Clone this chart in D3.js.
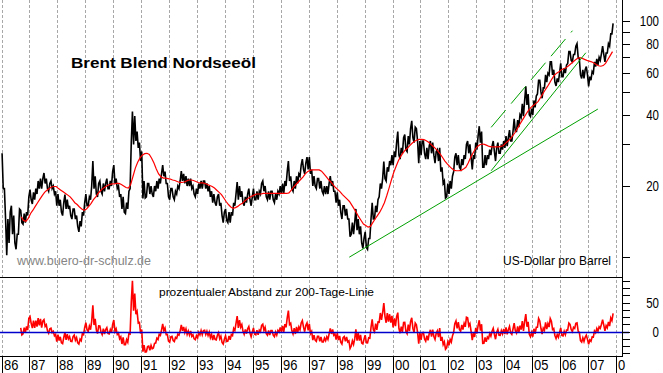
<!DOCTYPE html>
<html>
<head>
<meta charset="utf-8">
<script src="https://cdn.jsdelivr.net/npm/d3@7"></script>
<style>
  body { margin: 0; background: #fff; }
  svg { display: block; }
  text { font-family: "Liberation Sans", Arial, sans-serif; }
</style>
</head>
<body>
<svg id="chart" width="663" height="373"></svg>
<script>
/* global d3 */

// year ticks along the bottom
var years = d3.range(1986, 2009);
var yearLabels = ['86', '87', '88', '89', '90', '91', '92', '93', '94', '95', '96',
  '97', '98', '99', '00', '01', '02', '03', '04', '05', '06', '07', '08'];

// right axis (log, US-Dollar)
var priceTicks = [10, 20, 30, 40, 50, 60, 70, 80, 90, 100];
var priceLabels = [20, 40, 60, 80, 100];

// lower panel (percent)
var devTicks = [-37.5, -25, -12.5, 0, 12.5, 25, 37.5, 50, 62.5, 75, 87.5];
var devLabels = [0, 50];

// Brent monthly low / high, Jan 1986 .. Nov 2007
var priceLow = [
  19.5, 14.5, 10.2, 11.5, 12.5, 11.5, 10.8, 12.5, 14, 13.8, 14, 15,       // 1986
  17.5, 16.8, 17.5, 18.5, 19.5, 19.5, 20.5, 19.5, 19, 19.5, 18.5, 16.5,   // 1987
  16.5, 15.5, 15, 16, 16, 15, 14.5, 14.5, 13.5, 12.8, 13.5, 15,           // 1988
  16.5, 16.5, 17.5, 19.5, 18.5, 18, 19, 18.5, 19, 19.5, 19.5, 20,         // 1989
  20.5, 19.5, 18, 16, 15.5, 15.3, 16, 19.5, 30, 31, 29, 25.5,             // 1990
  17.7, 17.8, 18, 18.5, 18.5, 18, 19, 19.5, 20.5, 22, 20.5, 18,           // 1991
  17.5, 18, 17.5, 18.5, 19.5, 21, 20.5, 20, 20, 19.5, 18.5, 18,           // 1992
  18.5, 19.5, 19.5, 19.5, 19, 18, 17, 17, 16.5, 16.5, 15, 14,             // 1993
  14.3, 14, 14, 15, 16.5, 17.5, 18, 17, 16.5, 17, 17.5, 16.5,             // 1994
  17.5, 17.5, 17.5, 18.5, 19, 18, 17.5, 17.5, 17.5, 17, 17.5, 18.5,       // 1995
  18.5, 18.5, 20, 21, 19.5, 19, 19.5, 20.5, 22, 23.5, 22.5, 23.5,         // 1996
  22.5, 20, 20, 19.5, 19.5, 19, 18.5, 18.5, 18.5, 20, 19, 17,             // 1997
  16.5, 15.5, 14.5, 15, 14.5, 12.2, 12.5, 12.5, 13, 12.5, 11.5, 10.9,     // 1998
  11, 10.8, 12, 14.5, 14.5, 15.5, 18, 19.5, 21.5, 21, 23, 24.5,           // 1999
  24.5, 26.5, 27, 26, 27.5, 28.5, 28, 30, 32, 30.5, 31, 25,               // 2000
  27, 27.5, 26, 26, 27.5, 27, 25, 25.5, 23, 20.5, 17.8, 18,               // 2001
  18.5, 19.5, 23, 24.5, 24, 23.5, 24.5, 26, 27.5, 26.5, 23.5, 26,         // 2002
  28.5, 30.5, 24, 24, 24.5, 26, 27, 28, 25.5, 27.5, 27.5, 28.5,           // 2003
  29, 29.5, 31, 31, 34, 34, 35.5, 39, 39.5, 44, 40, 39.3,                 // 2004
  40, 43, 49, 50, 47, 52, 55, 59, 59, 55, 53, 55,                         // 2005
  58, 58, 60, 66, 68, 67, 72, 70, 59, 57, 57, 59,                         // 2006
  52.8, 56, 60, 64, 65, 68, 72, 67, 73, 78, 88                            // 2007
];
var priceHigh = [
  27.5, 19.5, 14.5, 15.5, 16.5, 15, 12.5, 16, 15.8, 15.3, 15.5, 18,       // 1986
  19.3, 18.8, 19.5, 21, 21.5, 21.5, 22.7, 21.5, 20.5, 21, 20, 19,         // 1987
  18.5, 17.5, 17, 18.4, 17.5, 16.5, 16, 16, 15, 14.2, 15.5, 17,           // 1988
  18.5, 18, 20, 25.5, 22, 20.5, 21, 20.5, 20.5, 21.5, 21, 23,             // 1989
  24.5, 21.5, 20, 18.5, 18, 17, 19, 30.5, 41.3, 39.5, 34, 30.5,           // 1990
  28, 21, 20.5, 20.5, 20, 20, 21, 21.5, 22.5, 24.5, 23, 20.5,             // 1991
  19.5, 19.5, 19, 20, 21, 23.1, 22.5, 22, 21.5, 21.5, 20, 19.5,           // 1992
  20.5, 21, 21, 21, 20.5, 20, 19, 18.5, 18, 18.5, 17, 15.5,               // 1993
  16, 15.5, 15.5, 17, 18.5, 20.8, 20, 19, 18, 18.5, 19.5, 18,             // 1994
  19.5, 19, 19, 20.5, 21, 20, 19, 19, 19, 18.5, 19, 20,                   // 1995
  20.5, 21, 23, 25.5, 22, 21, 22, 22.5, 24.5, 26, 25, 26.5,               // 1996
  26.5, 23.5, 22, 21.5, 21.5, 21, 20, 20, 20.5, 22, 21, 19,               // 1997
  18.8, 17.5, 16.5, 16.5, 16, 14.5, 14, 14, 16, 14.5, 13.5, 12,           // 1998
  12.8, 12, 14.5, 17, 16.5, 17.5, 20.5, 21.5, 25.4, 24, 25.5, 27,         // 1999
  28, 30.5, 34, 29, 32, 33, 32.5, 35, 37.7, 35.5, 35, 31,                 // 2000
  31, 31, 29, 29.5, 31, 30.5, 28, 28.5, 29, 24, 21, 20.5,                 // 2001
  21, 22, 26.5, 27.5, 27, 26, 27, 30, 31, 30, 27, 30.5,                   // 2002
  32.5, 35.8, 34, 27, 27, 28.5, 29.5, 31, 29, 30.5, 30, 31,               // 2003
  32.5, 32, 34.5, 34, 38.5, 38, 40, 44.5, 46, 52.8, 49, 42.5,             // 2004
  46, 48, 56, 56, 52, 59, 60, 67, 67, 62, 57, 60,                         // 2005
  66, 63, 65, 74, 74, 72, 78, 80, 69, 62, 62, 64,                         // 2006
  58, 61, 67, 69, 70, 72.5, 78, 73, 80, 88, 97.5                          // 2007
];
// 200-Tage-Linie, monthly (starts Sep 1986)
var ma200 = [
  null, null, null, null, null, null, null, null, 14.8, 14.3, 14.2, 14.6, // 1986
  15.3, 15.8, 16.4, 17.0, 17.6, 18.2, 18.8, 19.2, 19.5, 19.8, 19.9, 19.9, // 1987
  19.5, 19.2, 18.9, 18.6, 18.3, 18.0, 17.5, 17.0, 16.7, 16.3, 16.0, 15.8, // 1988
  16.0, 16.4, 16.9, 17.5, 18.0, 18.6, 19.1, 19.5, 19.8, 20.1, 20.3, 20.4, // 1989
  20.4, 20.5, 20.5, 20.3, 20.0, 19.7, 19.6, 20.3, 22.0, 23.8, 25.2, 26.3, // 1990
  27.0, 27.4, 27.5, 27.2, 26.2, 25.0, 23.6, 22.5, 21.9, 21.6, 21.6, 21.5, // 1991
  21.4, 21.2, 21.1, 20.9, 20.7, 20.7, 20.8, 21.0, 21.2, 21.2, 21.1, 20.9, // 1992
  20.7, 20.6, 20.6, 20.5, 20.3, 20.1, 19.9, 19.6, 19.2, 18.8, 18.4, 17.8, // 1993
  17.2, 16.7, 16.3, 16.1, 16.2, 16.4, 16.7, 16.9, 17.3, 17.6, 17.9, 18.1, // 1994
  18.3, 18.5, 18.5, 18.5, 18.6, 18.6, 18.6, 18.6, 18.6, 18.6, 18.6, 18.6, // 1995
  18.6, 18.6, 18.6, 18.7, 19.2, 19.8, 20.3, 20.8, 21.3, 21.8, 22.5, 23.0, // 1996
  23.3, 23.4, 23.4, 23.4, 23.4, 23.1, 22.5, 21.9, 21.3, 20.8, 20.2, 19.7, // 1997
  19.3, 18.9, 18.4, 18.0, 17.6, 17.2, 16.6, 16.0, 15.4, 14.8, 14.3, 13.8, // 1998
  13.6, 13.4, 13.5, 14.0, 14.5, 15.0, 15.5, 16.2, 17.0, 18.2, 19.6, 21.2, // 1999
  22.8, 24.2, 25.6, 26.7, 27.6, 28.4, 29.0, 29.7, 30.4, 30.9, 31.3, 31.5, // 2000
  31.5, 31.4, 31.1, 30.6, 30.0, 29.4, 28.8, 28.1, 27.3, 26.4, 25.5, 24.8, // 2001
  24.2, 23.7, 23.3, 23.2, 23.2, 23.3, 23.6, 24.0, 25.0, 26.3, 27.5, 28.6, // 2002
  29.4, 29.9, 30.1, 30.0, 29.7, 29.4, 29.3, 29.3, 29.3, 29.3, 29.4, 29.6, // 2003
  30.3, 30.9, 31.6, 32.5, 33.5, 34.8, 36.2, 37.6, 39.0, 40.5, 41.9, 43.0, // 2004
  43.8, 44.6, 45.5, 47.2, 49.0, 50.8, 52.6, 54.6, 56.8, 58.8, 60.0, 60.8, // 2005
  62.0, 62.6, 63.3, 64.3, 65.6, 66.9, 68.2, 69.4, 69.8, 69.3, 68.6, 68.0, // 2006
  67.5, 67.0, 66.2, 65.3, 64.5, 64.2, 64.6, 66.0, 68.5, 71.2, 74.0        // 2007
];
// trend lines: [year, price] end points
var supportLines = [
  [[1998.45, 10.0], [2007.35, 42.3]],
  [[2003.53, 23.2], [2006.92, 73.2]]
];
var channelLine = [[2003.53, 35.4], [2006.44, 90.7]];

var W = 663, H = 373;
var plotRight = 623, mainBottom = 277, devBottom = 356;

var x = d3.scaleLinear().domain([1986, 2008]).range([1.5, 616]);
var y = d3.scaleLog().domain([10, 100]).range([257.2, 20.7]);
var yDev = d3.scaleLinear().domain([0, 50]).range([331.7, 302.7]);

function px(v) { return Math.round(v) + 0.5; }
function monthT(m, f) { return 1986 + (m + f) / 12; }

var svg = d3.select('#chart');
svg.append('rect').attr('width', W).attr('height', H).attr('fill', '#fff');

var defs = svg.append('defs');
defs.append('clipPath').attr('id', 'clip-main').append('rect')
  .attr('x', 0).attr('y', 0).attr('width', plotRight).attr('height', mainBottom);
defs.append('clipPath').attr('id', 'clip-dev').append('rect')
  .attr('x', 0).attr('y', mainBottom).attr('width', plotRight).attr('height', devBottom - mainBottom);

// dashed year grid over both panels
svg.append('g').selectAll('line').data(years).join('line')
  .attr('x1', function(d) { return px(x(d)); })
  .attr('x2', function(d) { return px(x(d)); })
  .attr('y1', 0).attr('y2', devBottom)
  .attr('stroke', '#a8a8a8').attr('stroke-dasharray', '3,2');

// zig-zag path through monthly low/high
var pts = [];
var nM = priceLow.length;
function mid(m) { return (priceLow[m] + priceHigh[m]) / 2; }
for (var m = 0; m < nM; ++m) {
  var rising = m + 1 < nM ? mid(m + 1) >= mid(m) : true;
  pts.push({ t: monthT(m, 0.25), v: rising ? priceLow[m] : priceHigh[m], m: m });
  pts.push({ t: monthT(m, 0.75), v: rising ? priceHigh[m] : priceLow[m], m: m });
}
var maPts = ma200.map(function(v, i) { return { t: monthT(i, 0.5), v: v }; });
var devPts = pts.filter(function(p) { return ma200[p.m] != null; })
  .map(function(p) { return { t: p.t, v: (p.v / ma200[p.m] - 1) * 100 }; });

var main = svg.append('g').attr('clip-path', 'url(#clip-main)');
var line = d3.line()
  .defined(function(d) { return d.v != null; })
  .x(function(d) { return x(d.t); })
  .y(function(d) { return y(d.v); });

main.append('path').datum(pts).attr('d', line)
  .attr('fill', 'none').attr('stroke', '#000').attr('stroke-width', 1.6);
main.append('path').datum(maPts).attr('d', line)
  .attr('fill', 'none').attr('stroke', '#ff0000').attr('stroke-width', 1.2);

var tl = d3.line().x(function(d) { return x(d[0]); }).y(function(d) { return y(d[1]); });
supportLines.forEach(function(l) {
  main.append('path').datum(l).attr('d', tl)
    .attr('fill', 'none').attr('stroke', '#00a000').attr('stroke-width', 1);
});
main.append('path').datum(channelLine).attr('d', tl)
  .attr('fill', 'none').attr('stroke', '#00a000').attr('stroke-width', 1)
  .attr('stroke-dasharray', '22.5,8.5');

// texts in the main panel
svg.append('text').attr('x', 71).attr('y', 67.5)
  .attr('font-size', 15).attr('font-weight', 'bold')
  .attr('textLength', 185).attr('lengthAdjust', 'spacingAndGlyphs')
  .text('Brent Blend Nordseeöl');
svg.append('text').attr('x', 17).attr('y', 265)
  .attr('font-size', 13.5).attr('fill', '#858585')
  .attr('textLength', 134).attr('lengthAdjust', 'spacingAndGlyphs')
  .text('www.buero-dr-schulz.de');
svg.append('text').attr('x', 503).attr('y', 265)
  .attr('font-size', 13.5)
  .attr('textLength', 108).attr('lengthAdjust', 'spacingAndGlyphs')
  .text('US-Dollar pro Barrel');

// lower panel
var lower = svg.append('g').attr('clip-path', 'url(#clip-dev)');
svg.append('line').attr('x1', 0).attr('x2', plotRight + 6)
  .attr('y1', px(yDev(0))).attr('y2', px(yDev(0)))
  .attr('stroke', '#0000cc').attr('stroke-width', 1.3);
var dl = d3.line().x(function(d) { return x(d.t); }).y(function(d) { return yDev(d.v); });
lower.append('path').datum(devPts).attr('d', dl)
  .attr('fill', 'none').attr('stroke', '#ff0000').attr('stroke-width', 1.6);
svg.append('text').attr('x', 159).attr('y', 295.5)
  .attr('font-size', 11.5)
  .attr('textLength', 215).attr('lengthAdjust', 'spacingAndGlyphs')
  .text('prozentualer Abstand zur 200-Tage-Linie');

// frame lines
svg.append('line').attr('x1', 0).attr('x2', plotRight).attr('y1', mainBottom + 0.5).attr('y2', mainBottom + 0.5)
  .attr('stroke', '#000');
svg.append('line').attr('x1', 0).attr('x2', plotRight).attr('y1', devBottom + 0.5).attr('y2', devBottom + 0.5)
  .attr('stroke', '#000');
svg.append('line').attr('x1', plotRight - 0.5).attr('x2', plotRight - 0.5).attr('y1', 0).attr('y2', devBottom + 1)
  .attr('stroke', '#000');

// right axis ticks and labels
svg.append('g').selectAll('line').data(priceTicks).join('line')
  .attr('x1', plotRight).attr('x2', plotRight + 7)
  .attr('y1', function(d) { return px(y(d)); }).attr('y2', function(d) { return px(y(d)); })
  .attr('stroke', '#000');
svg.append('g').selectAll('text').data(priceLabels).join('text')
  .attr('x', 659).attr('y', function(d) { return y(d) + 5; })
  .attr('text-anchor', 'end').attr('font-size', 14)
  .attr('textLength', function(d) { return String(d).length * 6.4; })
  .attr('lengthAdjust', 'spacingAndGlyphs')
  .text(function(d) { return d; });
svg.append('g').selectAll('line').data(devTicks).join('line')
  .attr('x1', plotRight).attr('x2', plotRight + 7)
  .attr('y1', function(d) { return px(yDev(d)); }).attr('y2', function(d) { return px(yDev(d)); })
  .attr('stroke', '#000');
svg.append('g').selectAll('text').data(devLabels).join('text')
  .attr('x', 659).attr('y', function(d) { return yDev(d) + 5; })
  .attr('text-anchor', 'end').attr('font-size', 14)
  .attr('textLength', function(d) { return String(d).length * 6.4; })
  .attr('lengthAdjust', 'spacingAndGlyphs')
  .text(function(d) { return d; });

// bottom year ticks and labels (last label shows only its first digit, as in the source)
var yg = svg.append('g');
yg.selectAll('line').data(years).join('line')
  .attr('x1', function(d) { return px(x(d)); }).attr('x2', function(d) { return px(x(d)); })
  .attr('y1', devBottom).attr('y2', H)
  .attr('stroke', '#000');
yg.selectAll('text').data(years).join('text')
  .attr('x', function(d) { return px(x(d)) + 1.5; }).attr('y', 369.5)
  .attr('font-size', 14.5)
  .attr('textLength', function(d, i) { return i === years.length - 1 ? 7.2 : 14.4; })
  .attr('lengthAdjust', 'spacingAndGlyphs')
  .text(function(d, i) { return i === years.length - 1 ? yearLabels[i].charAt(0) : yearLabels[i]; });
</script>
</body>
</html>
